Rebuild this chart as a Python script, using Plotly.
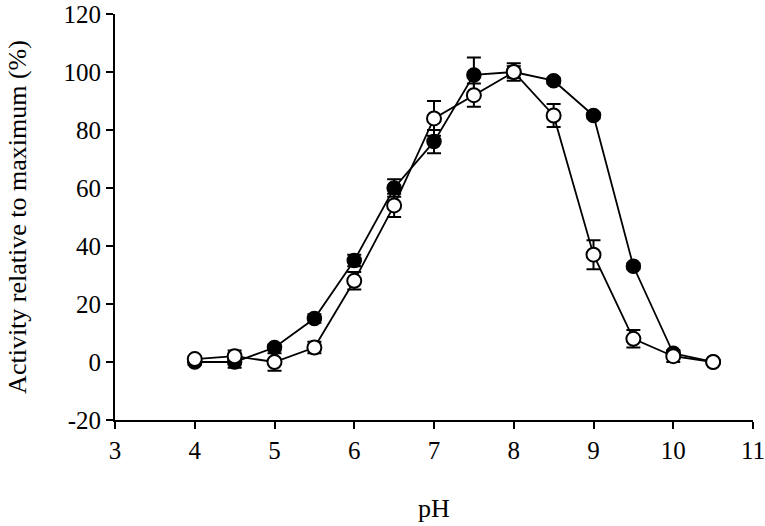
import plotly.graph_objects as go

ph = [4, 4.5, 5, 5.5, 6, 6.5, 7, 7.5, 8, 8.5, 9, 9.5, 10, 10.5]
filled = [0, 0, 5, 15, 35, 60, 76, 99, 100, 97, 85, 33, 3, 0]
filled_err = [1, 2, 1, 1.5, 2, 3, 4, 6, 2, 1, 1, 1, 1, 0.5]
open_ = [1, 2, 0, 5, 28, 54, 84, 92, 100, 85, 37, 8, 2, 0]
open_err = [1, 2, 3, 2, 3, 4, 6, 4, 3, 4, 5, 3, 2, 0.5]

x_ticks = [3, 4, 5, 6, 7, 8, 9, 10, 11]
y_ticks = [-20, 0, 20, 40, 60, 80, 100, 120]

font = "Liberation Serif, Times New Roman, serif"

fig = go.Figure()
fig.add_trace(go.Scatter(
    x=ph, y=filled, mode="lines+markers",
    line=dict(color="black", width=1.8),
    marker=dict(symbol="circle", size=14, color="black", line=dict(color="black", width=1.5)),
    error_y=dict(type="data", array=filled_err, visible=True, color="black", thickness=2, width=7),
    showlegend=False,
))
fig.add_trace(go.Scatter(
    x=ph, y=open_, mode="lines+markers",
    line=dict(color="black", width=1.8),
    marker=dict(symbol="circle", size=14, color="white", line=dict(color="black", width=2)),
    error_y=dict(type="data", array=open_err, visible=True, color="black", thickness=2, width=7),
    showlegend=False,
))

fig.update_layout(
    width=765, height=526,
    margin=dict(l=115, r=12, t=14, b=106, autoexpand=False),
    paper_bgcolor="white", plot_bgcolor="white",
    font=dict(family=font, size=25, color="black"),
)
fig.update_xaxes(
    range=[3, 11], tickvals=x_ticks, ticktext=[str(v) for v in x_ticks],
    showgrid=False, zeroline=False, automargin=False, ticklabeloverflow="allow",
    showline=True, linecolor="black", linewidth=2,
    ticks="outside", ticklen=7, tickwidth=2, tickcolor="black",
    title=dict(text="pH", font=dict(family=font, size=26), standoff=36),
)
fig.update_yaxes(
    range=[-20, 120], tickvals=y_ticks, ticktext=[str(v) for v in y_ticks],
    showgrid=False, zeroline=False, automargin=False, ticklabeloverflow="allow",
    showline=True, linecolor="black", linewidth=2,
    ticks="outside", ticklen=7, tickwidth=2, tickcolor="black",
    title=dict(text="Activity relative to maximum (%)", font=dict(family=font, size=26), standoff=29),
)

fig.write_html("out.html", config={"displayModeBar": False},
               post_script="document.body.style.margin='0';")
